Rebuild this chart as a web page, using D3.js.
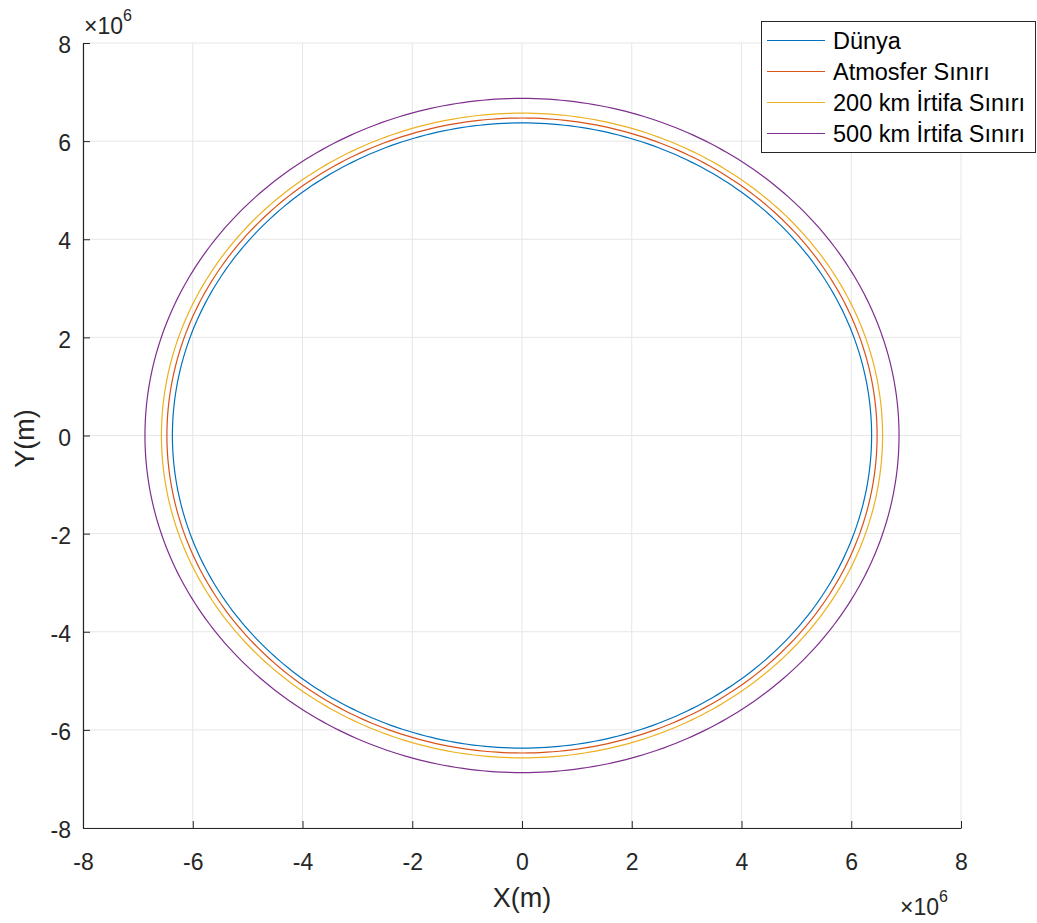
<!DOCTYPE html>
<html><head><meta charset="utf-8">
<script src="https://cdn.jsdelivr.net/npm/d3@7"></script>
<style>body{margin:0;background:#fff;} text{font-family:"Liberation Sans",Arial,sans-serif;}</style>
</head><body>
<svg id="c" width="1037" height="923"></svg>
<script>
const seriesNames = ["Dünya", "Atmosfer Sınırı", "200 km İrtifa Sınırı", "500 km İrtifa Sınırı"];
const radii = [6.371e6, 6.471e6, 6.571e6, 6.871e6];
const colors = ["#0072BD", "#D95319", "#EDB120", "#7E2F8E"];
const xTicks = [-8, -6, -4, -2, 0, 2, 4, 6, 8];
const yTicks = [-8, -6, -4, -2, 0, 2, 4, 6, 8];

const svg = d3.select("#c");
const L = 83, R = 961, T = 43, B = 828;
const x = d3.scaleLinear().domain([-8e6, 8e6]).range([L, R]);
const y = d3.scaleLinear().domain([-8e6, 8e6]).range([B, T]);
const axisCol = "#262626";
const FS = 23;

// grid
const g = svg.append("g");
xTicks.forEach(t => g.append("line").attr("x1", x(t*1e6)).attr("x2", x(t*1e6)).attr("y1", T).attr("y2", B).attr("stroke", "#e6e6e6").attr("stroke-width", 1));
yTicks.forEach(t => g.append("line").attr("y1", y(t*1e6)).attr("y2", y(t*1e6)).attr("x1", L).attr("x2", R).attr("stroke", "#e6e6e6").attr("stroke-width", 1));

// circles
const angles = d3.range(0, 361, 1).map(d => d * Math.PI / 180);
const line = d3.line().x(d => x(d[0])).y(d => y(d[1]));
radii.forEach((r, i) => {
  svg.append("path").attr("d", line(angles.map(a => [r * Math.cos(a), r * Math.sin(a)])))
    .attr("fill", "none").attr("stroke", colors[i]).attr("stroke-width", 1.2);
});

// axes
const xAxis = d3.axisBottom(x).tickValues(xTicks.map(t => t*1e6)).tickFormat((d, i) => xTicks[i]).tickSizeInner(-7).tickSizeOuter(0).tickPadding(12);
const yAxis = d3.axisLeft(y).tickValues(yTicks.map(t => t*1e6)).tickFormat((d, i) => yTicks[i]).tickSizeInner(-7).tickSizeOuter(0).tickPadding(12);
const gx = svg.append("g").attr("transform", `translate(0,${B})`).call(xAxis);
const gy = svg.append("g").attr("transform", `translate(${L},0)`).call(yAxis);
[gx, gy].forEach(a => {
  a.attr("font-size", FS).attr("font-family", "'Liberation Sans',Arial,sans-serif");
  a.select(".domain").attr("stroke", axisCol).attr("stroke-width", 1.2);
  a.selectAll(".tick line").attr("stroke", axisCol).attr("stroke-width", 1);
  a.selectAll(".tick text").attr("fill", axisCol);
});
gx.selectAll(".tick text").attr("y", 42).attr("dy", 0);
gy.selectAll(".tick text").attr("dy", "0.42em");

// axis labels
svg.append("text").attr("x", (L+R)/2).attr("y", 907).attr("text-anchor", "middle").attr("fill", axisCol).style("font-size", "27px").text("X(m)");
svg.append("text").attr("transform", `translate(34,${(T+B)/2 + 3}) rotate(-90)`).attr("text-anchor", "middle").attr("fill", axisCol).style("font-size", "27px").text("Y(m)");

// exponent labels
function expo(xp, yp) {
  const t = svg.append("text").attr("x", xp).attr("y", yp).attr("fill", axisCol).style("font-size", FS + "px");
  t.append("tspan").text("×10");
  t.append("tspan").attr("dy", -13).style("font-size", "16px").text("6");
}
expo(84, 34);
expo(900, 915);

// legend
const lg = svg.append("g");
lg.append("rect").attr("x", 761.5).attr("y", 21.5).attr("width", 274).attr("height", 131).attr("fill", "#fff").attr("stroke", axisCol).attr("stroke-width", 1);
seriesNames.forEach((n, i) => {
  const yy = 40.5 + i * 31;
  lg.append("line").attr("x1", 767).attr("x2", 825).attr("y1", yy).attr("y2", yy).attr("stroke", colors[i]).attr("stroke-width", 1.2);
  lg.append("text").attr("x", 833).attr("y", yy).attr("dy", "0.36em").attr("fill", "#000").style("font-size", "23.5px").text(n);
});
</script>
</body></html>
